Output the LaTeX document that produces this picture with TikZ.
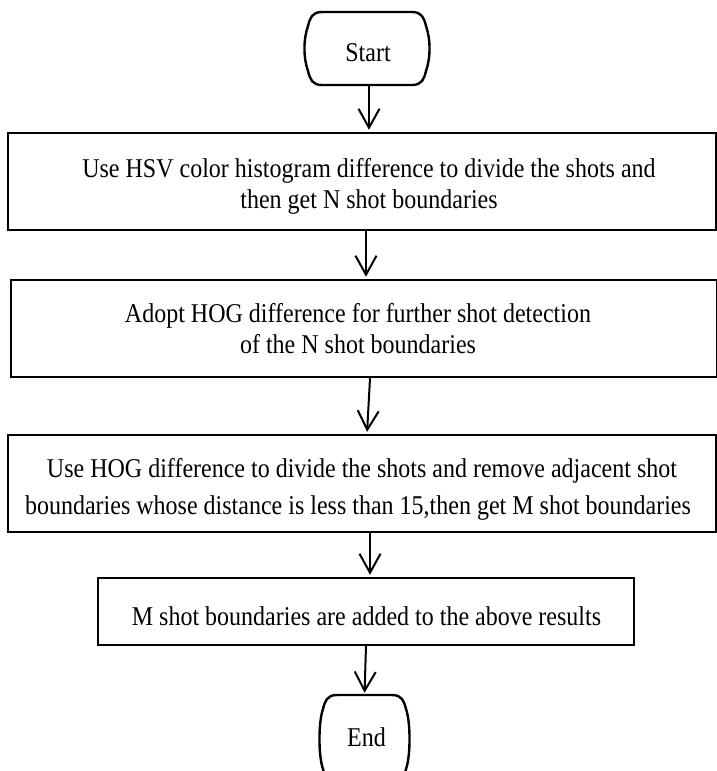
\documentclass[tikz,border=0pt]{standalone}
\usepackage{fontspec}
\setmainfont{Liberation Serif}
\usepackage{graphicx}
\usetikzlibrary{arrows.meta}
\newcommand\vstr[1]{\scalebox{1}[1.13]{#1}}
% terminal outline drawn around an (invisible) node: #1 name, #2 half width, #3 half height
\newcommand\termpath[3]{%
  \begin{scope}[shift={(#1.center)}]
    \draw[boxline] (-#2+18,-#3) -- (#2-18,-#3)
      .. controls (#2-8,-#3) and (#2-6,-#3+6) .. (#2-4,-#3+14)
      .. controls (#2+0.7,-#3+27) and (#2+0.7,#3-27) .. (#2-4,#3-14)
      .. controls (#2-6,#3-6) and (#2-8,#3) .. (#2-18,#3)
      -- (-#2+18,#3)
      .. controls (-#2+8,#3) and (-#2+6,#3-6) .. (-#2+4,#3-14)
      .. controls (-#2-0.7,#3-27) and (-#2-0.7,-#3+27) .. (-#2+4,-#3+14)
      .. controls (-#2+6,-#3+6) and (-#2+8,-#3) .. cycle;
  \end{scope}}
\begin{document}
\begin{tikzpicture}[x=1pt,y=-1pt,
  boxline/.style={line width=2.4pt},
  procbox/.style={draw, line width=2.4pt, rectangle, inner sep=0pt},
  termnode/.style={inner sep=0pt},
  txt/.style={inner sep=0pt, anchor=base, font=\fontsize{24}{28}\selectfont},
  arr/.style={line width=2pt, -{Straight Barb[length=19pt,width=21pt]}, shorten >=2pt}]
\useasboundingbox (0,0) rectangle (717,771);

% terminals
\node[termnode, minimum width=126pt, minimum height=73pt] (start) at (367,48.5) {};
\termpath{start}{63}{36.5}
\node[txt] (tstart) at (368,61.5) {\vstr{Start}};

\node[termnode, minimum width=91pt, minimum height=88pt] (end) at (364.5,739) {};
\termpath{end}{45.5}{44}
\node[txt] (tend) at (366.5,746) {\vstr{End}};

% process boxes
\node[procbox, minimum width=708pt, minimum height=97pt] (b1) at (362,181.5) {};
\node[procbox, minimum width=706pt, minimum height=97pt] (b2) at (364,328.5) {};
\node[procbox, minimum width=708pt, minimum height=97pt] (b3) at (362,483.5) {};
\node[procbox, minimum width=536pt, minimum height=67pt] (b4) at (366,611.5) {};

% texts
\node[txt] (t1a) at (369,177) {\vstr{Use HSV color histogram difference to divide the shots and}};
\node[txt] (t1b) at (369,208) {\vstr{then get N shot boundaries}};
\node[txt] (t2a) at (358,322) {\vstr{Adopt HOG difference for further shot detection}};
\node[txt] (t2b) at (358,353) {\vstr{of the N shot boundaries}};
\node[txt] (t3a) at (362,477) {\vstr{Use HOG difference to divide the shots and remove adjacent shot}};
\node[txt] (t3b) at (358,514) {\vstr{boundaries whose distance is less than 15,then get M shot boundaries}};
\node[txt] (t4) at (366.5,625) {\vstr{M shot boundaries are added to the above results}};

% connectors
\draw[arr] ([xshift=2pt]start.south) -- ([xshift=2pt]start.south |- b1.north);
\draw[arr] ([xshift=4pt]b1.south) -- ([xshift=4pt]b1.south |- b2.north);
\draw[arr] ([xshift=6pt]b2.south) -- ([xshift=5pt]b3.north);
\draw[arr] ([xshift=8pt]b3.south) -- ([xshift=4pt]b4.north);
\draw[arr] (b4.south) -- (end.north);
\end{tikzpicture}
\end{document}
